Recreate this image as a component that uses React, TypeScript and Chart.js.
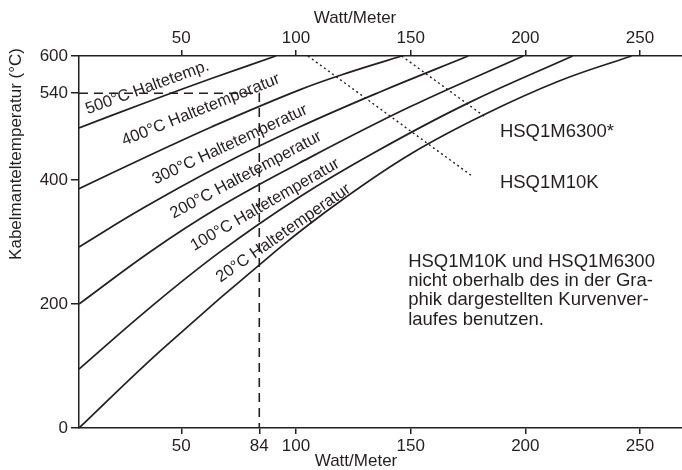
import React, { useEffect, useRef } from "react";
import { Chart, registerables } from "chart.js";

Chart.register(...registerables);

const FONT = '"Liberation Sans", Arial, Helvetica, sans-serif';
const INK = "#231f20";

// axis ranges and ticks
const xRange = [5.4, 268.3];
const yRange = [0, 600];
const bottomTicks = [50, 84, 100, 150, 200, 250];
const topTicks = [50, 100, 150, 200, 250];
const yTicks = [0, 200, 400, 540, 600];

// curves: [Watt/Meter, Kabelmanteltemperatur]
const curve500 = [[5.4, 484], [34.6, 525], [63.4, 564], [91.2, 600]];
const curve400 = [[5.4, 386], [34.6, 437], [63.4, 486], [101.3, 545], [123.5, 574], [146.1, 600]];
const curve300 = [[5.4, 292], [33, 354], [66.9, 423], [101.3, 485], [136.6, 542], [175.1, 600]];
const curve200 = [[5.4, 200], [37.1, 286], [66.4, 356], [101.3, 427], [149.7, 518], [199.1, 600]];
const curve100 = [[5.4, 95], [36, 193], [66.9, 284], [101.7, 373], [135, 446], [175, 524], [220.6, 600]];
const curve20 = [[5.4, 0], [41.6, 127], [92.3, 289], [120.5, 369], [150, 442], [182.4, 506], [215, 560], [246.3, 600]];

// limit lines (dotted)
const limit10K = [[105.2, 600], [177.3, 405]];
const limit6300 = [[146.1, 600], [182.4, 502]];

// example reading (dashed)
const exampleW = 84;
const exampleT = 540;

// curve labels
const curveLabels = [
  "500°C Haltetemp.",
  "400°C Haltetemperatur",
  "300°C Haltetemperatur",
  "200°C Haltetemperatur",
  "100°C Haltetemperatur",
  "20°C Haltetemperatur",
];
const labelX = [35.2, 58.5, 71.2, 78.2, 86.5, 94.5];
const labelY = [549, 513, 457, 408, 360, 314];
const labelAngle = [20, 22, 25, 28, 30, 35];

const limitLabels = ["HSQ1M6300*", "HSQ1M10K"];
const limitLabelX = [188.9, 188.9];
const limitLabelY = [477.4, 394.7];

const noteLines = [
  "HSQ1M10K und HSQ1M6300",
  "nicht oberhalb des in der Gra-",
  "phik dargestellten Kurvenver-",
  "laufes benutzen.",
];
const noteX = 148.9;
const noteY = 268.2;

const xTitle = "Watt/Meter";
const yTitle = "Kabelmanteltemperatur (°C)";

const toPts = (arr: number[][]) => arr.map(([x, y]) => ({ x, y }));

const annotate = {
  id: "annotate",
  afterDatasetsDraw(chart: any) {
    const ctx = chart.ctx as CanvasRenderingContext2D;
    const xs = chart.scales.x;
    const ys = chart.scales.y;
    ctx.save();
    ctx.fillStyle = INK;
    ctx.textAlign = "center";
    ctx.textBaseline = "middle";
    ctx.font = `16.5px ${FONT}`;
    curveLabels.forEach((t, i) => {
      ctx.save();
      ctx.translate(xs.getPixelForValue(labelX[i]), ys.getPixelForValue(labelY[i]));
      ctx.rotate((-labelAngle[i] * Math.PI) / 180);
      ctx.fillText(t, 0, 0);
      ctx.restore();
    });
    ctx.font = `18.5px ${FONT}`;
    ctx.textAlign = "left";
    limitLabels.forEach((t, i) => {
      ctx.fillText(t, xs.getPixelForValue(limitLabelX[i]), ys.getPixelForValue(limitLabelY[i]));
    });
    const nx = xs.getPixelForValue(noteX);
    const ny = ys.getPixelForValue(noteY);
    noteLines.forEach((t, i) => ctx.fillText(t, nx, ny + i * 19.3));

    ctx.font = `17px ${FONT}`;
    ctx.textAlign = "center";
    ctx.fillText(xTitle, 355, 18);
    ctx.fillText(xTitle, 356, 461);
    ctx.save();
    ctx.translate(16, 154);
    ctx.rotate(-Math.PI / 2);
    ctx.fillText(yTitle, 0, 0);
    ctx.restore();
    ctx.restore();
  },
};

const solid = (data: number[][]) => ({
  data: toPts(data),
  borderColor: INK,
  borderWidth: 1.7,
  pointRadius: 0,
  tension: 0.4,
  fill: false,
});

export default function App() {
  const ref = useRef<HTMLCanvasElement | null>(null);
  useEffect(() => {
    if (!ref.current) return;
    const axisCommon = {
      type: "linear" as const,
      grid: {
        drawOnChartArea: false,
        drawTicks: true,
        color: INK,
        tickColor: INK,
        lineWidth: 1.5,
      },
      border: { display: true, color: INK, width: 1.5 },
    };
    const chart = new Chart(ref.current, {
      type: "line",
      data: {
        datasets: [
          solid(curve500),
          solid(curve400),
          solid(curve300),
          solid(curve200),
          solid(curve100),
          solid(curve20),
          {
            data: toPts(limit10K),
            borderColor: INK,
            borderWidth: 1.4,
            borderDash: [2, 3],
            pointRadius: 0,
            tension: 0,
          },
          {
            data: toPts(limit6300),
            borderColor: INK,
            borderWidth: 1.4,
            borderDash: [2, 3],
            pointRadius: 0,
            tension: 0,
          },
          {
            data: [
              { x: xRange[0], y: exampleT },
              { x: exampleW, y: exampleT },
              { x: exampleW, y: yRange[0] },
            ],
            borderColor: INK,
            borderWidth: 1.6,
            borderDash: [9, 6],
            pointRadius: 0,
            tension: 0,
          },
        ],
      },
      options: {
        responsive: false,
        animation: false,
        devicePixelRatio: 1,
        layout: { padding: 0 },
        plugins: { legend: { display: false }, tooltip: { enabled: false }, title: { display: false } },
        scales: {
          x: {
            ...axisCommon,
            position: "bottom",
            min: xRange[0],
            max: xRange[1],
            grid: { ...axisCommon.grid, tickLength: 6 },
            ticks: { color: INK, font: { family: FONT, size: 17 }, padding: 2, autoSkip: false, maxRotation: 0 },
            afterBuildTicks: (s: any) => {
              s.ticks = bottomTicks.map((v) => ({ value: v }));
            },
            afterFit: (s: any) => {
              s.height = 42;
            },
          },
          x2: {
            ...axisCommon,
            position: "top",
            min: xRange[0],
            max: xRange[1],
            grid: { ...axisCommon.grid, tickLength: 6 },
            ticks: { color: INK, font: { family: FONT, size: 17 }, padding: 1, autoSkip: false, maxRotation: 0 },
            afterBuildTicks: (s: any) => {
              s.ticks = topTicks.map((v) => ({ value: v }));
            },
            afterFit: (s: any) => {
              s.height = 56;
            },
          },
          y: {
            ...axisCommon,
            position: "left",
            min: yRange[0],
            max: yRange[1],
            grid: { ...axisCommon.grid, tickLength: 8 },
            ticks: { color: INK, font: { family: FONT, size: 17 }, padding: 3, autoSkip: false },
            afterBuildTicks: (s: any) => {
              s.ticks = yTicks.map((v) => ({ value: v }));
            },
            afterFit: (s: any) => {
              s.width = 79;
            },
          },
        },
      },
      plugins: [annotate],
    });
    return () => chart.destroy();
  }, []);
  return (
    <div style={{ position: "absolute", left: 0, top: 0, width: 682, height: 470, background: "#fff" }}>
      <canvas ref={ref} width={682} height={470} style={{ display: "block" }} />
    </div>
  );
}
